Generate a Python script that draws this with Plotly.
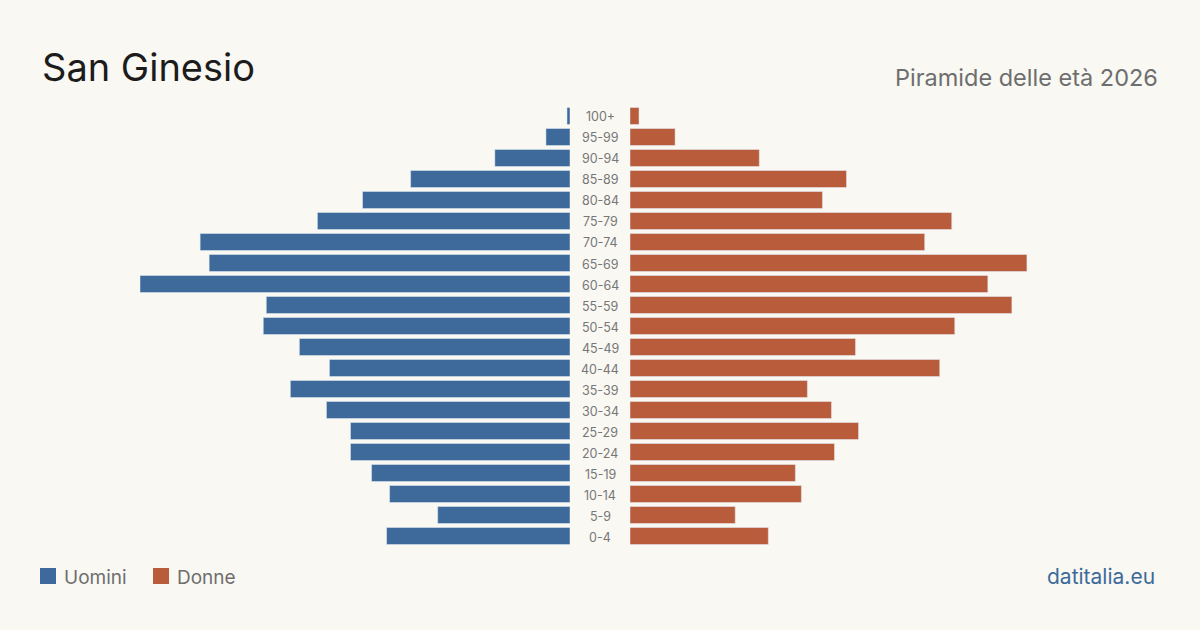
import plotly.graph_objects as go

age_groups = ["0-4", "5-9", "10-14", "15-19", "20-24", "25-29", "30-34", "35-39",
              "40-44", "45-49", "50-54", "55-59", "60-64", "65-69", "70-74", "75-79",
              "80-84", "85-89", "90-94", "95-99", "100+"]
uomini = [61, 44, 60, 66, 73, 73, 81, 93, 80, 90, 102, 101, 143, 120, 123, 84, 69, 53, 25, 8, 1]
donne = [46, 35, 57, 55, 68, 76, 67, 59, 103, 75, 108, 127, 119, 132, 98, 107, 64, 72, 43, 15, 3]

title = "San Ginesio"
subtitle = "Piramide delle età 2026"
source = "datitalia.eu"
name_m = "Uomini"
name_f = "Donne"

BG = "#f9f8f3"
BLUE = "#3d6a9a"
RED = "#b95c3c"
FONT = "Inter, Roboto, sans-serif"
W, H = 1200, 630

vmax = max(max(uomini), max(donne))

fig = go.Figure()
fig.add_trace(go.Bar(y=age_groups, x=uomini, orientation="h", marker_color=BLUE,
                     xaxis="x", yaxis="y", name=name_m, hoverinfo="x+y"))
fig.add_trace(go.Bar(y=age_groups, x=donne, orientation="h", marker_color=RED,
                     xaxis="x2", yaxis="y", name=name_f, hoverinfo="x+y"))

ydom = [(H - 546.5) / H, (H - 105.5) / H]
fig.update_layout(
    width=W, height=H,
    paper_bgcolor=BG, plot_bgcolor=BG,
    margin=dict(l=0, r=0, t=0, b=0),
    showlegend=False,
    bargap=4 / 21,
    font=dict(family=FONT),
    xaxis=dict(domain=[140 / W, 570 / W], range=[vmax, 0], visible=False, fixedrange=True),
    xaxis2=dict(domain=[630 / W, 1060 / W], range=[0, vmax], visible=False, fixedrange=True),
    yaxis=dict(domain=ydom, categoryorder="array", categoryarray=age_groups,
               range=[-0.5, len(age_groups) - 0.5], visible=False, fixedrange=True),
)

ann = []
for a in age_groups:
    ann.append(dict(x=0.5, xref="paper", y=a, yref="y", text=a, showarrow=False,
                    xanchor="center", yanchor="middle", yshift=-1,
                    font=dict(size=12.5, color="#777777", family=FONT)))

ann.append(dict(x=40 / W, y=1 - 67 / H, xref="paper", yref="paper", text=title,
                showarrow=False, xanchor="left", yanchor="middle",
                font=dict(size=38, color="#1c1c1c", family=FONT)))
ann.append(dict(x=1160 / W, y=1 - 77 / H, xref="paper", yref="paper", text=subtitle,
                showarrow=False, xanchor="right", yanchor="middle",
                font=dict(size=23.5, color="#6e6e6e", family=FONT)))
ann.append(dict(x=1157 / W, y=1 - 576 / H, xref="paper", yref="paper", text=source,
                showarrow=False, xanchor="right", yanchor="middle",
                font=dict(size=21, color=BLUE, family=FONT)))
ann.append(dict(x=62 / W, y=1 - 577 / H, xref="paper", yref="paper", text=name_m,
                showarrow=False, xanchor="left", yanchor="middle",
                font=dict(size=19, color="#6e6e6e", family=FONT)))
ann.append(dict(x=175 / W, y=1 - 577 / H, xref="paper", yref="paper", text=name_f,
                showarrow=False, xanchor="left", yanchor="middle",
                font=dict(size=19, color="#6e6e6e", family=FONT)))

shapes = [
    dict(type="rect", xref="paper", yref="paper", x0=40 / W, x1=56 / W,
         y0=1 - 584 / H, y1=1 - 568 / H, fillcolor=BLUE, line=dict(width=0)),
    dict(type="rect", xref="paper", yref="paper", x0=153 / W, x1=169 / W,
         y0=1 - 584 / H, y1=1 - 568 / H, fillcolor=RED, line=dict(width=0)),
]
fig.update_layout(annotations=ann, shapes=shapes)

fig.write_html("out.html", config={"displayModeBar": False})
